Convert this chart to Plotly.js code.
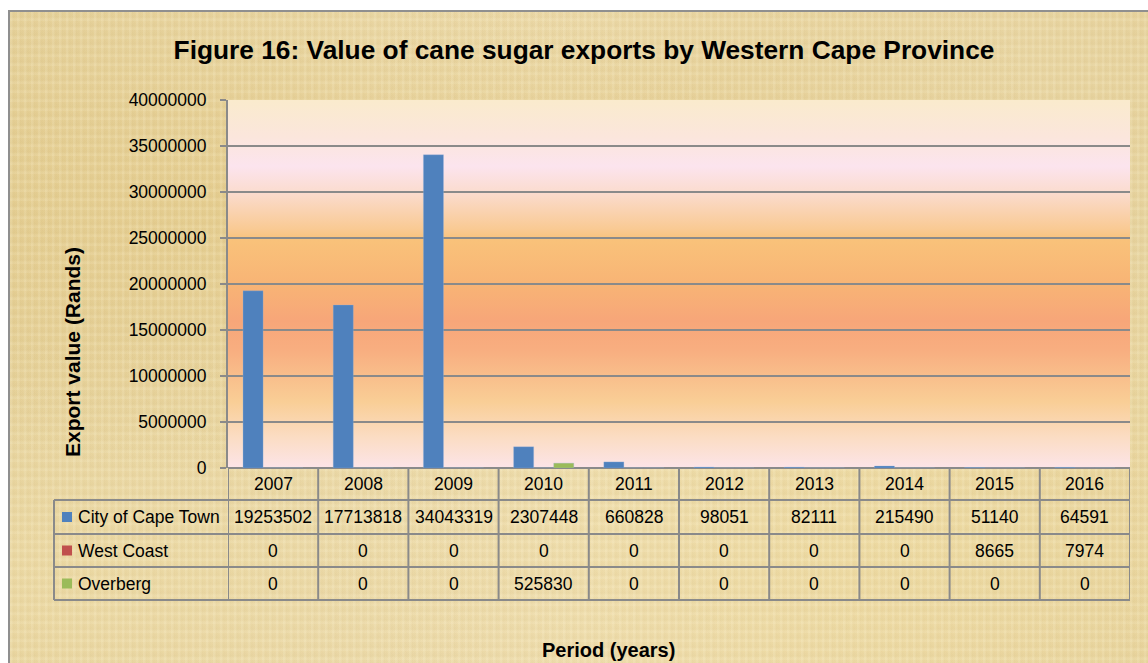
<!DOCTYPE html>
<html>
<head>
<meta charset="utf-8">
<script src="https://cdn.plot.ly/plotly-3.0.1.min.js"></script>
<style>
  html, body { margin:0; padding:0; width:1148px; height:663px; overflow:hidden; background:#ffffff; }
  #frame {
    position:absolute; left:8px; top:10px; width:1150px; height:670px;
    box-sizing:border-box; border:2px solid #8f8f8f;
    background-color:#E8D6A2;
    background-image:
      repeating-linear-gradient(90deg, rgba(255,250,225,0.12) 0px, rgba(255,250,225,0.12) 2px, rgba(160,130,60,0.03) 3px, rgba(255,250,225,0) 7px),
      repeating-linear-gradient(0deg, rgba(255,250,225,0.10) 0px, rgba(255,250,225,0.10) 2px, rgba(150,120,50,0.035) 4px, rgba(255,250,225,0) 9px),
      radial-gradient(ellipse at 20% 30%, rgba(225,195,120,0.45), rgba(225,195,120,0) 40%),
      radial-gradient(ellipse at 75% 80%, rgba(240,220,160,0.6), rgba(240,220,160,0) 45%),
      radial-gradient(ellipse at 60% 20%, rgba(220,190,115,0.35), rgba(220,190,115,0) 35%),
      radial-gradient(ellipse at 5% 85%, rgba(240,222,170,0.6), rgba(240,222,170,0) 30%),
      linear-gradient(90deg, #E6D29C, #EEDDB0 50%, #E7D39E);
  }
  #plotbg {
    position:absolute; left:228px; top:100px; width:902px; height:368px;
    background: linear-gradient(180deg, #FAEBCD 0%, #FBE6DC 10%, #FCE4EE 18%, #FBDCCF 25%, #F9CA94 35%, #F9C27A 38%, #F8B475 50%, #F7A679 60%, #F8AE80 68%, #F9CE96 82%, #FBDDC5 92%, #FCE4E8 100%);
  }
  #chart { position:absolute; left:0; top:0; width:1148px; height:663px; }
</style>
</head>
<body>
<div id="frame"></div>
<div id="plotbg"></div>
<div id="chart"></div>
<script>
const years = ["2007","2008","2009","2010","2011","2012","2013","2014","2015","2016"];
const seriesNames = ["City of Cape Town","West Coast","Overberg"];
const cityOfCapeTown = [19253502,17713818,34043319,2307448,660828,98051,82111,215490,51140,64591];
const westCoast = [0,0,0,0,0,0,0,0,8665,7974];
const overberg = [0,0,0,525830,0,0,0,0,0,0];
const seriesColors = ["#4F81BD","#C0504D","#9BBB59"];
const yTicks = [0,5000000,10000000,15000000,20000000,25000000,30000000,35000000,40000000];

const seriesData = [cityOfCapeTown, westCoast, overberg];
const FONT = "Liberation Sans, Arial, sans-serif";
const lineCol = "#8a8a8a";

const traces = seriesData.map((vals, i) => ({
  type: "bar",
  name: seriesNames[i],
  x: years,
  y: vals,
  marker: { color: seriesColors[i], line: { color: "rgba(150,180,220,0.6)", width: 0.5 } },
  showlegend: false,
  hoverinfo: "x+y+name"
}));

// table geometry (paper coordinates, plot height 368px)
const H = 368;
const rowLines = [0, -32/H, -66/H, -99/H, -132/H];
const rowCenters = [-16/H, -49/H, -82.5/H, -115.5/H];
const legendLeft = (54 - 228) / 902;

const shapes = [];
const annotations = [];

rowLines.forEach((y, k) => {
  if (k === 0) return;
  shapes.push({ type: "line", xref: "paper", yref: "paper", x0: legendLeft, x1: 1, y0: y, y1: y, line: { color: lineCol, width: 2 } });
});
for (let i = 0; i <= years.length; i++) {
  shapes.push({ type: "line", xref: "x", yref: "paper", x0: i - 0.5, x1: i - 0.5, y0: 0, y1: rowLines[4], line: { color: lineCol, width: 2 } });
}
shapes.push({ type: "line", xref: "paper", yref: "paper", x0: legendLeft, x1: legendLeft, y0: rowLines[1], y1: rowLines[4], line: { color: lineCol, width: 2 } });

// header years (category index on x axis)
years.forEach((yr, i) => {
  annotations.push({ xref: "x", yref: "paper", x: i, y: rowCenters[0], text: yr, showarrow: false, xanchor: "center", yanchor: "middle", font: { family: FONT, size: 17.5, color: "#000" } });
});
seriesData.forEach((vals, s) => {
  const yc = rowCenters[s + 1];
  shapes.push({ type: "rect", xref: "paper", yref: "paper", x0: (62 - 228) / 902, x1: (72 - 228) / 902, y0: yc - 5 / H, y1: yc + 5 / H, fillcolor: seriesColors[s], line: { width: 0 } });
  annotations.push({ xref: "paper", yref: "paper", x: (76 - 228) / 902, y: yc, text: seriesNames[s], showarrow: false, xanchor: "left", yanchor: "middle", font: { family: FONT, size: 17.5, color: "#000" } });
  vals.forEach((v, i) => {
    annotations.push({ xref: "x", yref: "paper", x: i, y: yc, text: String(v), showarrow: false, xanchor: "center", yanchor: "middle", font: { family: FONT, size: 17.5, color: "#000" } });
  });
});

// axis titles
annotations.push({ xref: "paper", yref: "paper", x: (608 - 228) / 902, y: (468 - 650) / H, text: "<b>Period (years)</b>", showarrow: false, xanchor: "center", yanchor: "middle", font: { family: FONT, size: 20, color: "#000" } });
annotations.push({ xref: "paper", yref: "paper", x: (72 - 228) / 902, y: (468 - 352) / H, text: "<b>Export value (Rands)</b>", textangle: -90, showarrow: false, xanchor: "center", yanchor: "middle", font: { family: FONT, size: 21, color: "#000" } });

const layout = {
  width: 1148, height: 663,
  margin: { l: 228, r: 18, t: 100, b: 195 },
  paper_bgcolor: "rgba(0,0,0,0)",
  plot_bgcolor: "rgba(0,0,0,0)",
  barmode: "group",
  bargap: 0.333,
  bargroupgap: 0,
  title: { text: "<b>Figure 16: Value of cane sugar exports by Western Cape Province</b>", xref: "container", yref: "container", x: 584 / 1148, y: 1 - 50 / 663, xanchor: "center", yanchor: "middle", font: { family: FONT, size: 26.3, color: "#000" } },
  xaxis: { type: "category", showticklabels: false, showgrid: false, zeroline: false, showline: false, ticks: "", range: [-0.5, 9.5], fixedrange: true },
  yaxis: {
    range: [0, 40000000], tickvals: yTicks, ticktext: yTicks.map(String),
    showgrid: true, gridcolor: lineCol, gridwidth: 2,
    zeroline: true, zerolinecolor: lineCol, zerolinewidth: 2,
    showline: true, linecolor: lineCol, linewidth: 2,
    ticks: "outside", ticklen: 6, tickcolor: lineCol, tickwidth: 2,
    ticklabelstandoff: 10,
    tickfont: { family: FONT, size: 17.5, color: "#000" },
    automargin: false
  },
  shapes: shapes,
  annotations: annotations
};

Plotly.newPlot("chart", traces, layout, { displayModeBar: false, staticPlot: true });
</script>
</body>
</html>
